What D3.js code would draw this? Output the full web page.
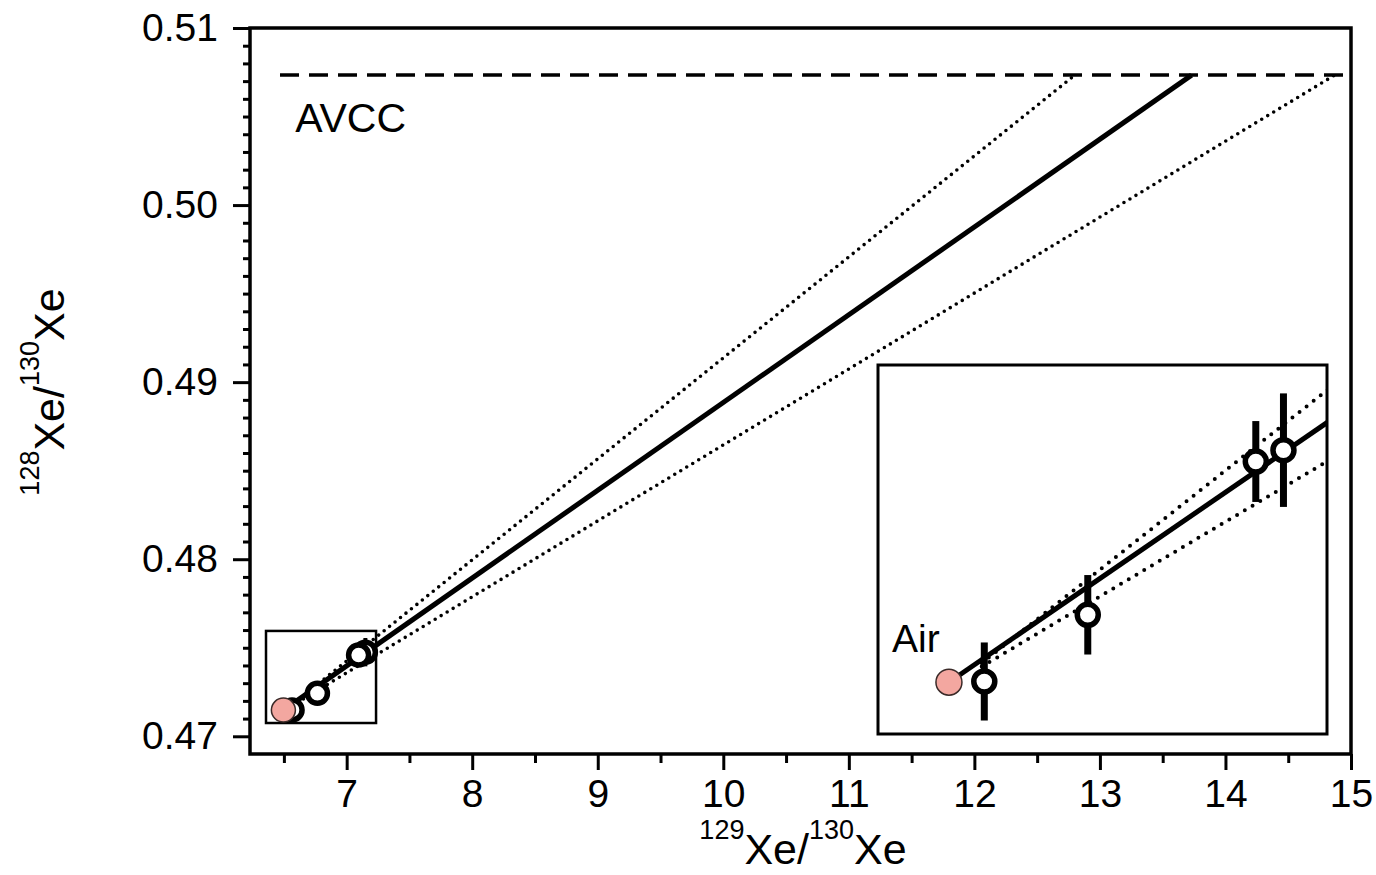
<!DOCTYPE html>
<html><head><meta charset="utf-8">
<script src="https://cdn.jsdelivr.net/npm/d3@7"></script>
<style>
body{margin:0;background:#fff}
svg{display:block}
text{font-family:"Liberation Sans",Arial,Helvetica,sans-serif;fill:#000}
</style>
</head><body>
<svg id="chart" width="1376" height="875"></svg>
<script>
// ---------- data ----------
const sampleNames = ["Air", "S1", "S2", "S3", "S4"];
const xe129_130 = [6.496, 6.565, 6.767, 7.095, 7.149];
const xe128_130 = [0.47148, 0.47149, 0.47243, 0.47459, 0.47475];
const xe128_err = [0, 0.00055, 0.00056, 0.00057, 0.0008];
const avcc128_130 = 0.50734;
const avccStartX = 6.469;
const fitLineX = [6.496, 13.73];
const fitLineY = [0.47148, 0.50734];
const upperBandX = [6.56, 12.80];
const upperBandY = [0.47175, 0.50734];
const lowerBandX = [6.56, 14.87];
const lowerBandY = [0.4717, 0.50734];
const xTicksMajor = [7, 8, 9, 10, 11, 12, 13, 14, 15];
const xTicksMinor = [6.5, 7.5, 8.5, 9.5, 10.5, 11.5, 12.5, 13.5, 14.5];
const yTicksMajor = [0.47, 0.48, 0.49, 0.50, 0.51];
const yTickLabels = ["0.47", "0.48", "0.49", "0.50", "0.51"];
const yTicksMinor = d3.range(470, 511).map(v => v / 1000).filter(v => Math.round(v * 1000) % 10 !== 0);
const xDomain = [6.23, 15];
const yDomain = [0.469, 0.51];
const insetXDomain = [6.3575, 7.234];
const insetYDomain = [0.47075, 0.47595];
const avccLabel = {text: "AVCC", x: 6.59, y: 0.5041};
const airLabel = {text: "Air", x: 6.385, y: 0.47191};

// ---------- layout ----------
const svg = d3.select("#chart");
const P = {l: 250, r: 1351, t: 28, b: 754};
const I = {l: 878, r: 1327, t: 365, b: 734};
const FONT = 39;

const x = d3.scaleLinear().domain(xDomain).range([P.l, P.r]);
const y = d3.scaleLinear().domain(yDomain).range([P.b, P.t]);
const xi = d3.scaleLinear().domain(insetXDomain).range([I.l, I.r]);
const yi = d3.scaleLinear().domain(insetYDomain).range([I.b, I.t]);

svg.append("rect").attr("width", 1376).attr("height", 875).attr("fill", "#fff");

// axes
function styleAxis(g) {
  g.select(".domain").remove();
  g.selectAll(".tick line").attr("stroke", "#000").attr("stroke-width", 3);
  g.selectAll(".tick text").style("font-size", FONT + "px").attr("fill", "#000");
}
svg.append("g").attr("transform", `translate(0,${P.b})`)
  .call(d3.axisBottom(x).tickValues(xTicksMinor).tickSize(9).tickFormat(""))
  .call(styleAxis);
svg.append("g").attr("transform", `translate(0,${P.b})`)
  .call(d3.axisBottom(x).tickValues(xTicksMajor).tickSize(16).tickPadding(9).tickFormat(d3.format("d")))
  .call(styleAxis);
svg.append("g").attr("transform", `translate(${P.l},0)`)
  .call(d3.axisLeft(y).tickValues(yTicksMinor).tickSize(7).tickFormat(""))
  .call(styleAxis);
svg.append("g").attr("transform", `translate(${P.l},0)`)
  .call(d3.axisLeft(y).tickValues(yTicksMajor).tickSize(17).tickPadding(15)
    .tickFormat((d, i) => yTickLabels[i]))
  .call(styleAxis);

// frame
svg.append("rect").attr("x", x(xDomain[0])).attr("y", y(yDomain[1]))
  .attr("width", x(xDomain[1]) - x(xDomain[0])).attr("height", y(yDomain[0]) - y(yDomain[1]))
  .attr("fill", "none").attr("stroke", "#000").attr("stroke-width", 3.5);

// axis titles
function isoTitle(sel, a, b) {
  sel.append("tspan").style("font-size", "27px").attr("dy", -25).text(a);
  sel.append("tspan").style("font-size", "43px").attr("dy", 25).text("Xe/");
  sel.append("tspan").style("font-size", "27px").attr("dy", -25).text(b);
  sel.append("tspan").style("font-size", "43px").attr("dy", 25).text("Xe");
}
svg.append("text").attr("x", 803).attr("y", 864).attr("text-anchor", "middle")
  .call(isoTitle, "129", "130");
svg.append("text").attr("transform", "translate(64,392) rotate(-90)").attr("text-anchor", "middle")
  .call(isoTitle, "128", "130");

// AVCC dashed line
svg.append("line").attr("x1", x(avccStartX)).attr("x2", x(xDomain[1]))
  .attr("y1", y(avcc128_130)).attr("y2", y(avcc128_130))
  .attr("stroke", "#000").attr("stroke-width", 3.5).attr("stroke-dasharray", "19,10");
svg.append("text").attr("x", x(avccLabel.x)).attr("y", y(avccLabel.y))
  .style("font-size", "41px").text(avccLabel.text);

// lines
function drawLines(g, sx, sy, dotW, dotGap, solidW) {
  const ln = d3.line().x(d => sx(d[0])).y(d => sy(d[1]));
  [[upperBandX, upperBandY], [lowerBandX, lowerBandY]].forEach(([xs, ys]) => {
    g.append("path").attr("d", ln(d3.zip(xs, ys))).attr("fill", "none")
      .attr("stroke", "#000").attr("stroke-width", dotW).attr("stroke-linecap", "round")
      .attr("stroke-dasharray", `0,${dotGap}`);
  });
  g.append("path").attr("d", ln(d3.zip(fitLineX, fitLineY))).attr("fill", "none")
    .attr("stroke", "#000").attr("stroke-width", solidW);
}
function drawPoints(g, sx, sy, rAir, rHollow, ringW, barW) {
  const pts = sampleNames.map((n, i) => ({n, x: xe129_130[i], y: xe128_130[i], e: xe128_err[i]}));
  g.selectAll(".eb").data(pts.filter(p => p.e > 0)).join("line")
    .attr("x1", d => sx(d.x)).attr("x2", d => sx(d.x))
    .attr("y1", d => sy(d.y - d.e)).attr("y2", d => sy(d.y + d.e))
    .attr("stroke", "#000").attr("stroke-width", barW);
  g.selectAll(".pt").data(pts.slice().reverse()).join("circle")
    .attr("cx", d => sx(d.x)).attr("cy", d => sy(d.y))
    .attr("r", d => d.n === "Air" ? rAir : rHollow)
    .attr("fill", d => d.n === "Air" ? "#f3a7a0" : "#fff")
    .attr("stroke", d => d.n === "Air" ? "#3a2a28" : "#000")
    .attr("stroke-width", d => d.n === "Air" ? 1.5 : ringW);
}

const main = svg.append("g");
drawLines(main, x, y, 3.6, 7, 5);
// zoom box in main plot
main.append("rect").attr("x", x(insetXDomain[0])).attr("y", y(insetYDomain[1]))
  .attr("width", x(insetXDomain[1]) - x(insetXDomain[0]))
  .attr("height", y(insetYDomain[0]) - y(insetYDomain[1]))
  .attr("fill", "none").attr("stroke", "#000").attr("stroke-width", 2.5);
drawPoints(main, x, y, 12, 10, 5.5, 4);

// inset
svg.append("clipPath").attr("id", "insetClip").append("rect")
  .attr("x", I.l).attr("y", I.t).attr("width", I.r - I.l).attr("height", I.b - I.t);
svg.append("rect").attr("x", I.l).attr("y", I.t).attr("width", I.r - I.l).attr("height", I.b - I.t)
  .attr("fill", "#fff");
const inset = svg.append("g").attr("clip-path", "url(#insetClip)");
drawLines(inset, xi, yi, 4, 9, 5);
drawPoints(inset, xi, yi, 13, 10.5, 5.5, 7);
svg.append("rect").attr("x", I.l).attr("y", I.t).attr("width", I.r - I.l).attr("height", I.b - I.t)
  .attr("fill", "none").attr("stroke", "#000").attr("stroke-width", 3);
svg.append("text").attr("x", xi(airLabel.x)).attr("y", yi(airLabel.y))
  .style("font-size", "39px").text(airLabel.text);
</script>
</body></html>
